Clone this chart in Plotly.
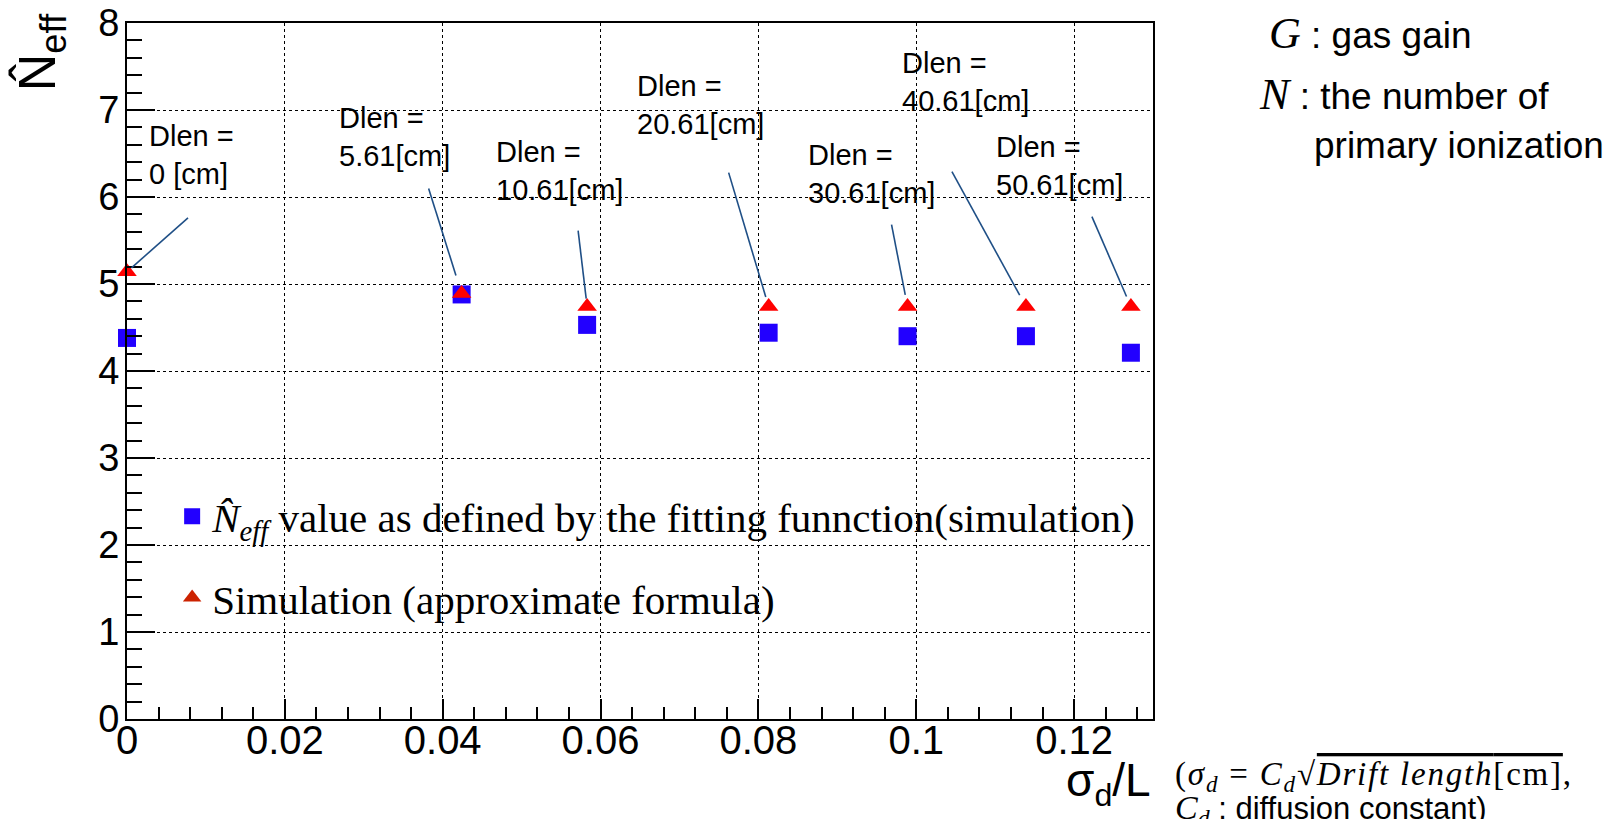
import math
import plotly.graph_objects as go

# ---------------- data ----------------
sigma_over_L = [0, 0.0424, 0.0583, 0.0813, 0.0989, 0.1139, 0.1272]
neff_fit = [4.38, 4.88, 4.53, 4.44, 4.40, 4.40, 4.21]
neff_approx = [5.14, 4.89, 4.74, 4.74, 4.74, 4.74, 4.74]
dlen_labels = ["0 [cm]", "5.61[cm]", "10.61[cm]", "20.61[cm]",
               "30.61[cm]", "40.61[cm]", "50.61[cm]"]

x_tick_vals = [0, 0.02, 0.04, 0.06, 0.08, 0.1, 0.12]
x_tick_text = ["0", "0.02", "0.04", "0.06", "0.08", "0.1", "0.12"]
y_tick_vals = [0, 1, 2, 3, 4, 5, 6, 7, 8]
y_tick_text = ["0", "1", "2", "3", "4", "5", "6", "7", "8"]

legend_fit = "<i>N̂<sub>eff</sub></i> value as defined by the fitting funnction(simulation)"
legend_approx = "Simulation (approximate formula)"

# ---------------- layout helpers (pixel offsets, not data) ----------------
label_offsets = [(20, 117), (-125, 157), (-93, 136), (-134, 202),
                 (-102, 133), (-126, 225), (-137, 141)]
line_starts = [(61, 54), (-33, 105), (-9, 76), (-40, 134),
               (-16, 82), (-74, 135), (-39, 90)]
line_standoffs = [6, 19, 8, 10, 12, 13, 11]

SANS = "Liberation Sans, Arial, Helvetica, sans-serif"
SERIF = "Liberation Serif, Times New Roman, serif"
BLUE = "#2200ff"
RED = "#ff0000"
LINE = "#1f4f86"

fig = go.Figure()

fig.add_trace(go.Scatter(
    x=sigma_over_L, y=neff_fit, mode="markers", showlegend=False,
    marker=dict(symbol="square", size=18, color=BLUE), cliponaxis=False))
fig.add_trace(go.Scatter(
    x=sigma_over_L, y=neff_approx, mode="markers", showlegend=False,
    marker=dict(symbol="triangle-up", size=17, color=RED), cliponaxis=False))

# legend entries
fig.add_trace(go.Scatter(
    x=[None], y=[None], mode="markers", name=legend_fit, legendgroup="a",
    marker=dict(symbol="square", size=26, color=BLUE)))
fig.add_trace(go.Scatter(
    x=[None], y=[None], mode="markers", name=legend_approx, legendgroup="b",
    marker=dict(symbol="triangle-up", size=30, color="#cc2200")))

annotations = []
shapes = []
for xv, yv, lab, (dx, dy), (lx, ly), so in zip(
        sigma_over_L, neff_approx, dlen_labels, label_offsets, line_starts, line_standoffs):
    annotations.append(dict(
        x=xv, y=yv, xref="x", yref="y", text="Dlen =<br>" + lab,
        showarrow=False, xanchor="left", yanchor="middle", align="left",
        xshift=dx, yshift=dy, font=dict(family=SANS, size=29, color="black")))
    d = math.hypot(lx, ly)
    ex, ey = lx * so / d, ly * so / d
    shapes.append(dict(
        type="line", xref="x", yref="y", xsizemode="pixel", ysizemode="pixel",
        xanchor=xv, yanchor=yv, x0=lx, y0=ly, x1=ex, y1=ey,
        line=dict(color=LINE, width=1.6)))

# axis titles
annotations.append(dict(
    x=-0.0838, y=0.958, xref="paper", yref="paper", text="N̂<sub>eff</sub>",
    textangle=-90, showarrow=False, xanchor="center", yanchor="middle",
    font=dict(family=SANS, size=52, color="black")))
annotations.append(dict(
    x=1.0, y=-0.092, xref="paper", yref="paper", text="σ<sub>d</sub>/L",
    showarrow=False, xanchor="right", yanchor="middle",
    font=dict(family=SANS, size=46, color="black")))

# side notes
annotations.append(dict(
    x=1.0195, y=(719 - 776) / 696, xref="paper", yref="paper",
    text=("<span style='letter-spacing:1.8px'>(<i>σ<sub>d</sub></i> = <i>C<sub>d</sub></i>√"
          "<span style='text-decoration:overline'><i>Drift length</i>[cm]</span>,</span>"),
    showarrow=False, xanchor="left", yanchor="middle", align="left",
    font=dict(family=SERIF, size=33, color="black")))
annotations.append(dict(
    x=1.0195, y=(719 - 810) / 696, xref="paper", yref="paper",
    text=("<span style='font-size:34px'><i>C<sub>d</sub></i></span>"
          "<span style='font-family:Liberation Sans'> : diffusion constant)</span>"),
    showarrow=False, xanchor="left", yanchor="middle", align="left",
    font=dict(family=SERIF, size=31, color="black")))
annotations.append(dict(
    x=1.111, y=(719 - 33) / 696, xref="paper", yref="paper",
    text="<span style='font-family:Liberation Serif;font-size:44px'><i>G</i></span> : gas gain",
    showarrow=False, xanchor="left", yanchor="middle", align="left",
    font=dict(family=SANS, size=37, color="black")))
annotations.append(dict(
    x=1.101, y=(719 - 95) / 696, xref="paper", yref="paper",
    text="<span style='font-family:Liberation Serif;font-size:44px'><i>N</i></span> : the number of",
    showarrow=False, xanchor="left", yanchor="middle", align="left",
    font=dict(family=SANS, size=37, color="black")))
annotations.append(dict(
    x=1.155, y=(719 - 145) / 696, xref="paper", yref="paper",
    text="primary ionization",
    showarrow=False, xanchor="left", yanchor="middle", align="left",
    font=dict(family=SANS, size=37, color="black")))

axis_common = dict(
    ticks="inside", tickwidth=1.5, tickcolor="black", automargin=False,
    showline=True, linecolor="black", linewidth=2, mirror=True,
    showgrid=True, gridcolor="black", gridwidth=1, griddash="dot",
    zeroline=False,
)

fig.update_layout(
    width=1613, height=819,
    margin=dict(l=127, r=460, t=23, b=100, autoexpand=False),
    paper_bgcolor="white", plot_bgcolor="white",
    xaxis=dict(range=[0, 0.13], tickmode="array", tickvals=x_tick_vals,
               ticktext=x_tick_text, ticklen=20, ticklabelstandoff=-15,
               tickfont=dict(family=SANS, size=40, color="black"),
               minor=dict(dtick=0.004, ticks="inside", ticklen=12, tickwidth=1.5,
                          tickcolor="black", showgrid=False),
               **axis_common),
    yaxis=dict(range=[0, 8], tickmode="array", tickvals=y_tick_vals,
               ticktext=y_tick_text, ticklen=28, ticklabelstandoff=-2,
               tickfont=dict(family=SANS, size=38, color="black"),
               minor=dict(dtick=0.2, ticks="inside", ticklen=15, tickwidth=1.5,
                          tickcolor="black", showgrid=False),
               **axis_common),
    legend=dict(x=0.044, y=0.339, xanchor="left", yanchor="top",
                bgcolor="rgba(0,0,0,0)", borderwidth=0, tracegroupgap=25,
                itemsizing="trace",
                font=dict(family=SERIF, size=41, color="black")),
    annotations=annotations,
    shapes=shapes,
    showlegend=True,
)

fig.write_html(
    "out.html",
    config={"displayModeBar": False},
    post_script="document.body.style.margin='0';document.body.style.overflow='hidden';",
)
